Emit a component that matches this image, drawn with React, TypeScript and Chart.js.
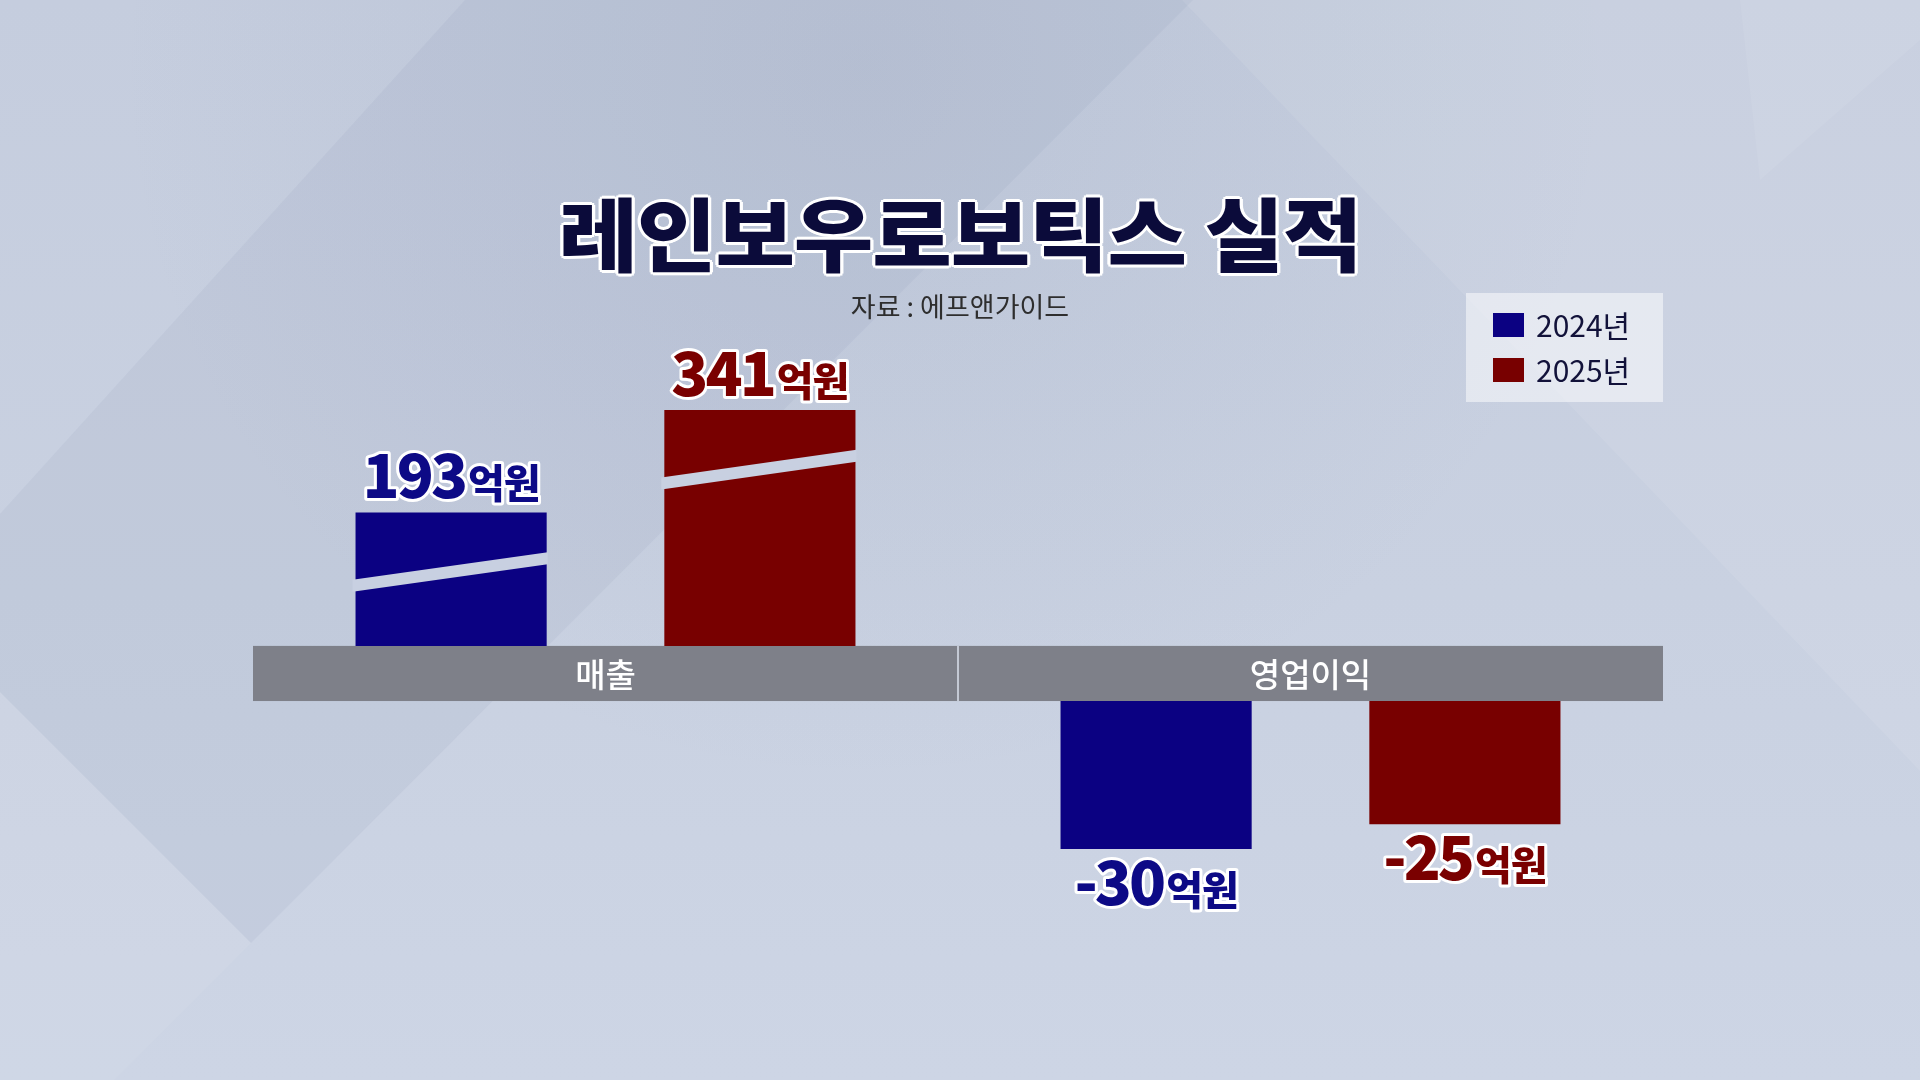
import React, { useEffect, useRef } from 'react';
import { Chart, registerables } from 'chart.js';

Chart.register(...registerables);

const TITLE = '레인보우로보틱스 실적';
const SOURCE = '자료 : 에프앤가이드';
const UNIT = '억원';
const categories = ['매출', '영업이익'];
const seriesLabels = ['2024년', '2025년'];
const values2024 = [193, -30];
const values2025 = [341, -25];
const seriesColors = ['#0b0182', '#780000'];
const labelColors = ['#0d0a86', '#7a0000'];

const FONT = '"Noto Sans CJK KR", "Noto Sans", sans-serif';

const series = [values2024, values2025];

function buildDatasets() {
  const ds: any[] = [];
  series.forEach((vals, s) => {
    ds.push({
      label: seriesLabels[s],
      data: vals.map((v) => (v >= 0 ? v : null)),
      yAxisID: 'yPos',
      backgroundColor: seriesColors[s],
      seriesIndex: s,
    });
    ds.push({
      label: seriesLabels[s],
      data: vals.map((v) => (v < 0 ? v : null)),
      yAxisID: 'yNeg',
      backgroundColor: seriesColors[s],
      seriesIndex: s,
    });
  });
  return ds;
}

const bandPlugin = {
  id: 'categoryBand',
  beforeDatasetsDraw(chart: any) {
    const { ctx, chartArea, scales } = chart;
    const top = scales.yPos.getPixelForValue(0);
    const bottom = scales.yNeg.getPixelForValue(0);
    const x = scales.x;
    ctx.save();
    ctx.fillStyle = '#7e8089';
    ctx.fillRect(chartArea.left, top, chartArea.right - chartArea.left, bottom - top);
    ctx.fillStyle = '#c4c9d4';
    for (let i = 1; i < chart.data.labels.length; i++) {
      const xm = (x.getPixelForValue(i - 1) + x.getPixelForValue(i)) / 2;
      ctx.fillRect(xm - 1, top, 2, bottom - top);
    }
    ctx.fillStyle = '#ffffff';
    ctx.font = `500 33px ${FONT}`;
    ctx.textAlign = 'center';
    ctx.textBaseline = 'middle';
    chart.data.labels.forEach((lab: string, i: number) => {
      ctx.fillText(lab, x.getPixelForValue(i), (top + bottom) / 2 + 1);
    });
    ctx.restore();
  },
};

const breakPlugin = {
  id: 'axisBreak',
  afterDatasetsDraw(chart: any) {
    const { ctx } = chart;
    ctx.save();
    ctx.fillStyle = '#c8d0e1';
    chart.getSortedVisibleDatasetMetas().forEach((meta: any) => {
      if (meta.yAxisID !== 'yPos') return;
      const data = chart.data.datasets[meta.index].data;
      meta.data.forEach((el: any, i: number) => {
        if (data[i] == null) return;
        const { x, y, width } = el.getProps(['x', 'y', 'width'], true);
        const l = x - width / 2;
        const r = x + width / 2;
        const yl = y + 73;
        const yr = y + 46;
        const slope = (yr - yl) / (r - l);
        const l2 = l - 3;
        const r2 = r + 1;
        const h = 6;
        ctx.beginPath();
        ctx.moveTo(l2, yl + slope * (l2 - l) - h);
        ctx.lineTo(r2, yl + slope * (r2 - l) - h);
        ctx.lineTo(r2, yl + slope * (r2 - l) + h);
        ctx.lineTo(l2, yl + slope * (l2 - l) + h);
        ctx.closePath();
        ctx.fill();
      });
    });
    ctx.restore();
  },
};

const labelPlugin = {
  id: 'valueLabels',
  afterDatasetsDraw(chart: any) {
    const { ctx } = chart;
    ctx.save();
    ctx.lineJoin = 'round';
    ctx.textBaseline = 'alphabetic';
    ctx.textAlign = 'left';
    chart.getSortedVisibleDatasetMetas().forEach((meta: any) => {
      const ds = chart.data.datasets[meta.index];
      meta.data.forEach((el: any, i: number) => {
        const v = ds.data[i];
        if (v == null) return;
        const { x, y } = el.getProps(['x', 'y'], true);
        const num = String(v);
        const numFont = `900 61px ${FONT}`;
        const unitFont = `900 40px ${FONT}`;
        ctx.font = numFont;
        (ctx as any).letterSpacing = '-3px';
        const w1 = ctx.measureText(num).width;
        ctx.font = unitFont;
        (ctx as any).letterSpacing = '-1px';
        const w2 = ctx.measureText(UNIT).width;
        const gap = 3;
        const start = x - (w1 + gap + w2) / 2;
        const baseline = v >= 0 ? y - 14 : y + 56;
        const color = labelColors[ds.seriesIndex];
        const draw = (text: string, font: string, spacing: string, px: number) => {
          ctx.font = font;
          (ctx as any).letterSpacing = spacing;
          ctx.lineWidth = 6;
          ctx.strokeStyle = '#ffffff';
          ctx.strokeText(text, px, baseline);
          ctx.fillStyle = color;
          ctx.fillText(text, px, baseline);
        };
        draw(num, numFont, '-3px', start);
        draw(UNIT, unitFont, '-1px', start + w1 + gap);
      });
    });
    ctx.restore();
  },
};

const legendPlugin = {
  id: 'boxLegend',
  afterDraw(chart: any) {
    const { ctx, chartArea } = chart;
    const entries: { label: string; color: string }[] = [];
    chart.data.datasets.forEach((ds: any) => {
      if (!entries.find((e) => e.label === ds.label)) {
        entries.push({ label: ds.label, color: ds.backgroundColor });
      }
    });
    const boxW = 197;
    const rowH = 45;
    const boxH = 19 + rowH * entries.length;
    const left = chartArea.right - boxW;
    const top = chartArea.top - 7;
    ctx.save();
    ctx.fillStyle = 'rgba(255,255,255,0.5)';
    ctx.fillRect(left, top, boxW, boxH);
    ctx.font = `400 30px ${FONT}`;
    ctx.textBaseline = 'middle';
    ctx.textAlign = 'left';
    entries.forEach((e, j) => {
      const cy = top + 32 + j * rowH;
      ctx.fillStyle = e.color;
      ctx.fillRect(left + 27, cy - 12, 31, 24);
      ctx.fillStyle = '#12123a';
      ctx.fillText(e.label, left + 70, cy + 1);
    });
    ctx.restore();
  },
};

function BarChart() {
  const ref = useRef<HTMLCanvasElement | null>(null);
  useEffect(() => {
    if (!ref.current) return;
    const chart = new Chart(ref.current, {
      type: 'bar',
      data: { labels: categories, datasets: buildDatasets() },
      options: {
        responsive: false,
        animation: false,
        devicePixelRatio: 1,
        layout: { padding: { left: 253, right: 257, top: 300, bottom: 120 } },
        datasets: {
          bar: {
            skipNull: true,
            categoryPercentage: 0.876,
            barPercentage: 0.619,
          } as any,
        },
        scales: {
          x: { display: false, offset: true, grid: { display: false } },
          yPos: { type: 'linear', display: false, min: -454, max: 500 },
          yNeg: { type: 'linear', display: false, min: -52.5, max: 81.3 },
        },
        plugins: {
          legend: { display: false },
          title: { display: false },
          tooltip: { enabled: false },
        },
      } as any,
      plugins: [bandPlugin, breakPlugin, labelPlugin, legendPlugin],
    });
    return () => chart.destroy();
  }, []);
  return (
    <canvas
      ref={ref}
      width={1920}
      height={1080}
      style={{ position: 'absolute', left: 0, top: 0, width: 1920, height: 1080 }}
    />
  );
}

const outline = [
  '3px 0 #fff', '-3px 0 #fff', '0 3px #fff', '0 -3px #fff',
  '2px 2px #fff', '-2px 2px #fff', '2px -2px #fff', '-2px -2px #fff',
].join(', ');

export default function App() {
  return (
    <div
      style={{
        position: 'fixed',
        left: 0,
        top: 0,
        width: 1920,
        height: 1080,
        overflow: 'hidden',
        background: 'linear-gradient(180deg, #c5cdde 0%, #c9d1e1 55%, #cdd5e5 100%)',
      }}
    >
      <div style={{ position: 'absolute', inset: 0, background: 'radial-gradient(ellipse at 45% 6%, rgba(110,128,158,0.12), rgba(110,128,158,0) 50%)' }} />
      <div style={{ position: 'absolute', inset: 0, background: 'rgba(120,138,168,0.09)', clipPath: 'polygon(0 514px, 465px 0, 1193px 0, 251px 943px, 0 692px)' }} />
      <div style={{ position: 'absolute', inset: 0, background: 'rgba(255,255,255,0.08)', clipPath: 'polygon(1182px 0, 1920px 0, 1920px 771px)' }} />
      <div style={{ position: 'absolute', inset: 0, background: 'rgba(255,255,255,0.06)', clipPath: 'polygon(0 692px, 251px 943px, 114px 1080px, 0 1080px)' }} />
      <div style={{ position: 'absolute', inset: 0, background: 'rgba(255,255,255,0.07)', clipPath: 'polygon(1740px 0, 1920px 0, 1920px 40px, 1760px 180px)' }} />
      <BarChart />
      <div
        style={{
          position: 'absolute',
          left: 0,
          top: 190,
          width: 1920,
          textAlign: 'center',
          fontFamily: FONT,
          fontWeight: 900,
          fontSize: 80,
          lineHeight: '80px',
          letterSpacing: '-1px',
          color: '#0b0b3a',
          textShadow: outline,
          transform: 'scaleX(1.08)',
        }}
      >
        {TITLE}
      </div>
      <div
        style={{
          position: 'absolute',
          left: 0,
          top: 291,
          width: 1920,
          textAlign: 'center',
          fontFamily: FONT,
          fontWeight: 400,
          fontSize: 27,
          lineHeight: '30px',
          color: '#2e2e2e',
        }}
      >
        {SOURCE}
      </div>
    </div>
  );
}
